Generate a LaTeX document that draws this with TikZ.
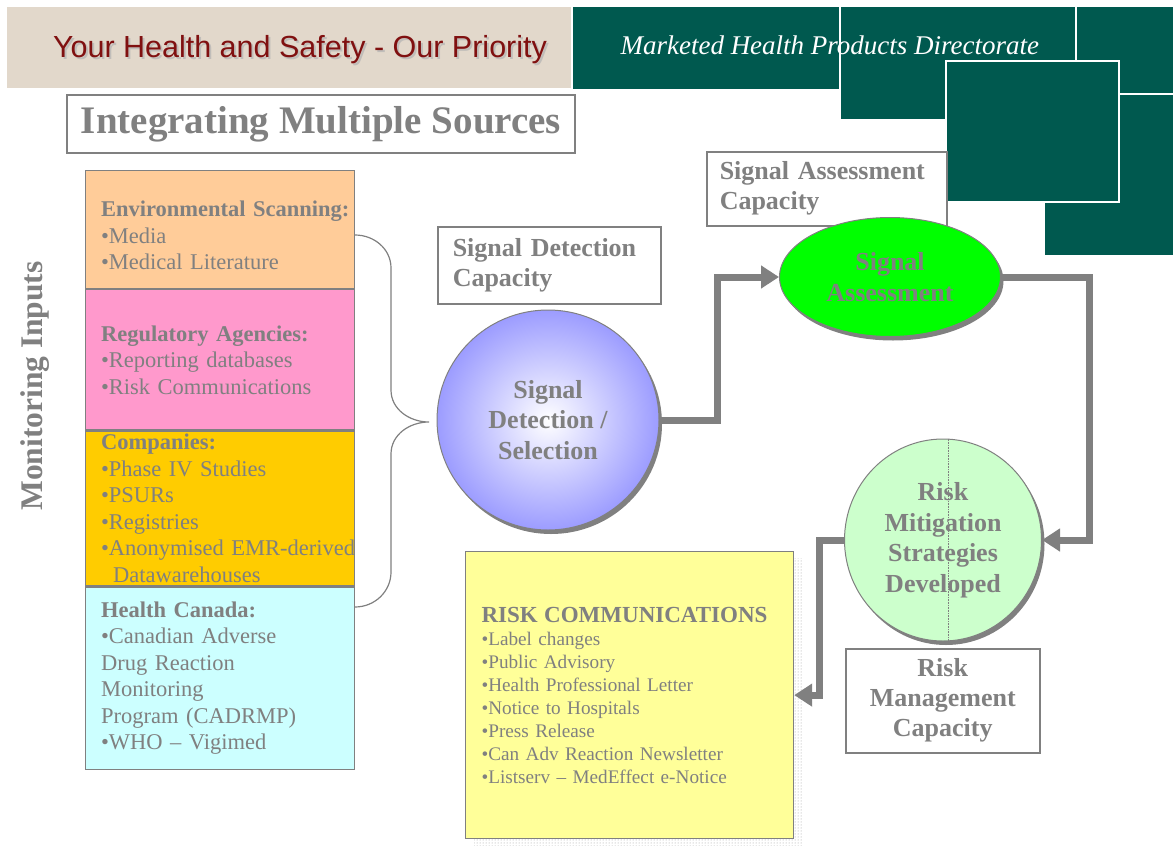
\documentclass[tikz,border=0pt]{standalone}
\usepackage{fontspec}
\setmainfont{Liberation Serif}
\newfontfamily\bannerfont{Liberation Sans}
\usetikzlibrary{arrows.meta,positioning,shapes.geometric,shadows,patterns,backgrounds}

\definecolor{txtgray}{HTML}{808080}
\definecolor{bannerbeige}{HTML}{E2D8CB}
\definecolor{mottored}{HTML}{801010}
\definecolor{mhpdteal}{HTML}{00594F}
\definecolor{envorange}{HTML}{FFCC99}
\definecolor{regpink}{HTML}{FF99CC}
\definecolor{compgold}{HTML}{FFCC00}
\definecolor{hccyan}{HTML}{CCFFFF}
\definecolor{detblue}{HTML}{9C9CFF}
\definecolor{sigreen}{HTML}{00FF00}
\definecolor{mitgreen}{HTML}{CCFFCC}
\definecolor{commyellow}{HTML}{FFFF99}

\begin{document}
\begin{tikzpicture}[
  x=1pt, y=-1pt,
  font=\fontsize{22.5}{26.5}\selectfont,
  every node/.style={text=txtgray},
  src/.style={draw=txtgray, line width=1.2pt, minimum width=269pt, text width=238pt, inner xsep=15.5pt, inner ysep=0pt, align=left},
  capbox/.style={draw=txtgray, line width=1.5pt, fill=white, anchor=north west, inner ysep=0pt, font=\fontsize{26}{30}\selectfont\bfseries},
  blob/.style={ellipse, draw=txtgray, line width=1pt, inner sep=0pt, align=center, font=\fontsize{26}{30.5}\selectfont\bfseries,
    general shadow={fill=txtgray, shadow xshift=3pt, shadow yshift=-4pt}},
  flow/.style={draw=txtgray, line width=7pt, -{Triangle[length=18pt, width=22pt]}},
  mhpdblock/.style={fill=mhpdteal, draw=white, line width=2.5pt}
]
  \useasboundingbox (0,0) rectangle (1173,846);

  % banner
  \fill[bannerbeige] (7,7) rectangle (572,88);
  \node[font=\bannerfont\fontsize{30.5}{34}\selectfont, text=black!30, opacity=0.7] at (302,52) {Your Health and Safety - Our Priority};
  \node[font=\bannerfont\fontsize{30.5}{34}\selectfont, text=mottored] (motto) at (300,50) {Your Health and Safety - Our Priority};
  \draw[mhpdblock] (572,6) rectangle (840,90);
  \draw[mhpdblock] (840,6) rectangle (1076,120);
  \draw[mhpdblock] (1076,6) rectangle (1176,94);
  \draw[mhpdblock] (1044,94) rectangle (1176,256);
  \draw[mhpdblock] (946,61) rectangle (1119,202);
  \node[anchor=west, font=\itshape\fontsize{27}{30}\selectfont, text=white] (mhpd) at (617,45) {Marketed Health Products Directorate};

  \node[draw=txtgray, line width=1.5pt, minimum width=508pt, minimum height=58pt, inner sep=0pt,
    font=\fontsize{39}{44}\selectfont\bfseries] (title) at (321,124) {Integrating Multiple Sources};

  \node[rotate=90, font=\fontsize{31.5}{34}\selectfont\bfseries] (inputs) at (35,386) {Monitoring Inputs};

  % monitoring sources
  \node[src, anchor=north west, fill=envorange, minimum height=118pt] (env) at (85,170)
    {\rule{0pt}{28pt}\textbf{\mbox{Environmental Scanning:}}\\•Media\\•Medical Literature};
  \node[src, fill=regpink, minimum height=140pt, below=0pt of env] (reg)
    {\textbf{Regulatory Agencies:}\\•Reporting databases\\•Risk Communications};
  \node[src, fill=compgold, minimum height=155pt, below=0pt of reg] (comp)
    {\textbf{Companies:}\\•Phase IV Studies\\•PSURs\\•Registries\\\mbox{•Anonymised EMR-derived}\\\hspace*{12pt}Datawarehouses};
  \node[src, fill=hccyan, minimum height=182pt, below=0pt of comp] (hc)
    {\textbf{Health Canada:}\\•Canadian Adverse\\Drug Reaction\\Monitoring\\Program (CADRMP)\\•WHO – Vigimed};

  \coordinate (brace top) at (355,235);
  \coordinate (brace tip) at (429,422);
  \coordinate (brace bot) at (355,607);
  \draw[txtgray, line width=1.2pt] (brace top) to[out=0, in=90] (391,268) -- (391,390) to[out=-90, in=180] (brace tip)
    to[out=180, in=90] (391,454) -- (391,572) to[out=-90, in=0] (brace bot);

  % capacities and stages
  \node[capbox, minimum width=223pt, minimum height=77pt, text width=193pt, inner xsep=15pt, align=left] (detcap) at (437,226) {Signal Detection\\Capacity};
  \node[capbox, minimum width=240pt, minimum height=74pt, text width=214pt, inner xsep=13pt, align=left] (asscap) at (706,151) {Signal Assessment\\Capacity};
  \node[capbox, minimum width=194pt, minimum height=104pt, text width=194pt, inner xsep=0pt, align=center] (mgmtcap) at (845,648) {Risk\\Management\\Capacity};

  \node[blob, minimum width=222pt, minimum height=220pt, inner color=white, outer color=detblue] (detect) at (548,420) {Signal\\Detection /\\Selection};
  \node[blob, fill=sigreen, minimum width=221pt, minimum height=119pt] (assess) at (890,277) {Signal\\Assessment};
  \node[blob, fill=mitgreen, minimum width=197pt, minimum height=202pt] (mitig) at (943,540) {Risk\\Mitigation\\Strategies\\Developed};
  \draw[txtgray, densely dotted, line width=0.6pt] ([xshift=5pt]mitig.north) -- ([xshift=5pt]mitig.south);

  \node[anchor=north west, fill=commyellow, draw=txtgray, line width=1.2pt, minimum width=328pt, minimum height=287pt,
    text width=296pt, inner xsep=16pt, inner ysep=0pt, align=left, font=\fontsize{19.2}{23}\selectfont] (comms) at (465,551)
    {{\fontsize{23}{23}\selectfont\bfseries RISK COMMUNICATIONS}\\•Label changes\\•Public Advisory\\•Health Professional Letter\\•Notice to Hospitals\\•Press Release\\•Can Adv Reaction Newsletter\\•Listserv – MedEffect e-Notice};
  \begin{scope}[on background layer]
    \fill[pattern=dots, pattern color=txtgray!80] ([xshift=9pt, yshift=-7pt]comms.north west) rectangle ([xshift=9pt, yshift=-7pt]comms.south east);
  \end{scope}

  \draw[flow] (detect.east) -- ++(58,0) |- (assess.west);
  \draw[flow] (assess.east) -- ++(88,0) |- (mitig.east);
  \draw[flow] (mitig.west) -- ++(-25,0) |- (comms.east);
\end{tikzpicture}
\end{document}
